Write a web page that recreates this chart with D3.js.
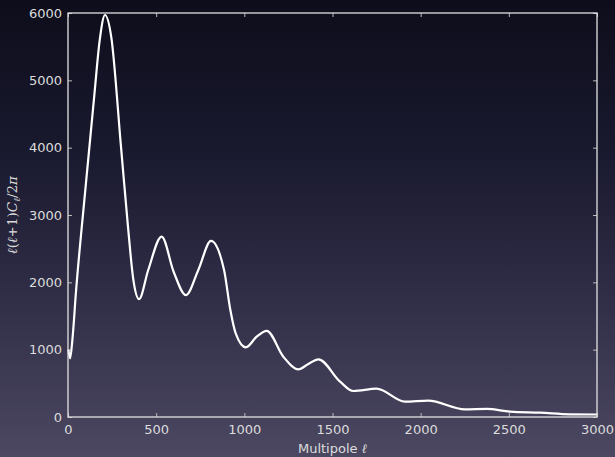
<!DOCTYPE html>
<html>
<head>
<meta charset="utf-8">
<script src="https://cdn.jsdelivr.net/npm/d3@7"></script>
<style>
  html, body { margin: 0; padding: 0; }
  svg { display: block; }
  .tick text { font-family: "DejaVu Sans", sans-serif; font-size: 13px; fill: #dcdcdc; }
  .tick line { stroke: #b8b8b8; stroke-width: 1; }
</style>
</head>
<body>
<script>
// multipole values
let ell = [2, 12, 25, 45, 100, 150, 180, 210, 245, 300, 340, 370, 403,
           455, 531, 600, 669, 739, 811, 885, 920, 950, 1009, 1070, 1127, 1221, 1306, 1363, 1420, 1543, 1618,
           1750, 1911, 2043, 2251, 2374, 2507, 2677, 2847, 3000];
// power D_ell = l(l+1)C_l/2pi
let power = [1000, 870, 1150, 1850, 3420, 4800, 5600, 5970, 5650, 4030, 2830, 2050, 1750,
             2183, 2680, 2150, 1810, 2183, 2615, 2183, 1600, 1250, 1035, 1193, 1280, 896, 708, 787, 857, 525, 386,
             420, 228, 243, 114, 120, 80, 64, 40, 37];

let xTicks = [0, 500, 1000, 1500, 2000, 2500, 3000];
let yTicks = [0, 1000, 2000, 3000, 4000, 5000, 6000];

let width = 615, height = 457;
let margin = {left: 68, right: 18, top: 13, bottom: 40};
let w = width - margin.left - margin.right;
let h = height - margin.top - margin.bottom;

let svg = d3.select("body").append("svg").attr("width", width).attr("height", height);

// background gradient
let grad = svg.append("defs").append("linearGradient")
    .attr("id", "bg").attr("x1", 0).attr("y1", 0).attr("x2", 0).attr("y2", 1);
grad.append("stop").attr("offset", "0%").attr("stop-color", "#0d0d1b");
grad.append("stop").attr("offset", "35%").attr("stop-color", "#1a1a30");
grad.append("stop").attr("offset", "70%").attr("stop-color", "#34314a");
grad.append("stop").attr("offset", "100%").attr("stop-color", "#4c4861");
svg.append("rect").attr("width", width).attr("height", height).attr("fill", "url(#bg)");

let x = d3.scaleLinear().domain([0, 3000]).range([0, w]);
let y = d3.scaleLinear().domain([0, 6000]).range([h, 0]);

let g = svg.append("g").attr("transform", "translate(" + margin.left + "," + margin.top + ")");

// axes with inward ticks
let ax = (sel) => sel.select(".domain").remove();
g.append("g").attr("transform", "translate(0," + h + ")")
    .call(d3.axisBottom(x).tickValues(xTicks).tickFormat(d3.format("d")).tickSize(-4).tickPadding(8))
    .call(ax);
g.append("g")
    .call(d3.axisLeft(y).tickValues(yTicks).tickFormat(d3.format("d")).tickSize(-4).tickPadding(6))
    .call(ax);
g.append("g")
    .call(d3.axisTop(x).tickValues(xTicks).tickFormat("").tickSize(-4))
    .call(ax);
g.append("g").attr("transform", "translate(" + w + ",0)")
    .call(d3.axisRight(y).tickValues(yTicks).tickFormat("").tickSize(-4))
    .call(ax);

// the spectrum
let pts = ell.map((l, i) => [l, power[i]]);
let line = d3.line().x(d => x(d[0])).y(d => y(d[1])).curve(d3.curveMonotoneX);
g.append("path")
    .attr("d", line(pts))
    .attr("fill", "none")
    .attr("stroke", "#ffffff")
    .attr("stroke-width", 2.2)
    .attr("stroke-linejoin", "round");

// frame
g.append("rect").attr("width", w).attr("height", h)
    .attr("fill", "none").attr("stroke", "#e2e2e2").attr("stroke-width", 1.3);

// x label
let xl = svg.append("text")
    .attr("x", margin.left + w / 2).attr("y", 453)
    .attr("text-anchor", "middle")
    .attr("font-family", "DejaVu Sans, sans-serif").attr("font-size", 13)
    .attr("fill", "#dcdcdc");
xl.append("tspan").text("Multipole ");
xl.append("tspan").attr("font-family", "DejaVu Serif, serif").attr("font-style", "italic").text("ℓ");

// y label
let yl = svg.append("text")
    .attr("transform", "translate(17," + (margin.top + h / 2) + ") rotate(-90)")
    .attr("text-anchor", "middle")
    .attr("font-family", "DejaVu Serif, serif").attr("font-size", 13.5)
    .attr("fill", "#dcdcdc");
yl.append("tspan").attr("font-style", "italic").text("ℓ");
yl.append("tspan").text("(");
yl.append("tspan").attr("font-style", "italic").text("ℓ");
yl.append("tspan").text("+1)");
yl.append("tspan").attr("font-style", "italic").text("C");
yl.append("tspan").attr("font-style", "italic").attr("font-size", 9).attr("dy", 3).text("ℓ");
yl.append("tspan").attr("dy", -3).text("/2");
yl.append("tspan").attr("font-style", "italic").text("π");
</script>
</body>
</html>
